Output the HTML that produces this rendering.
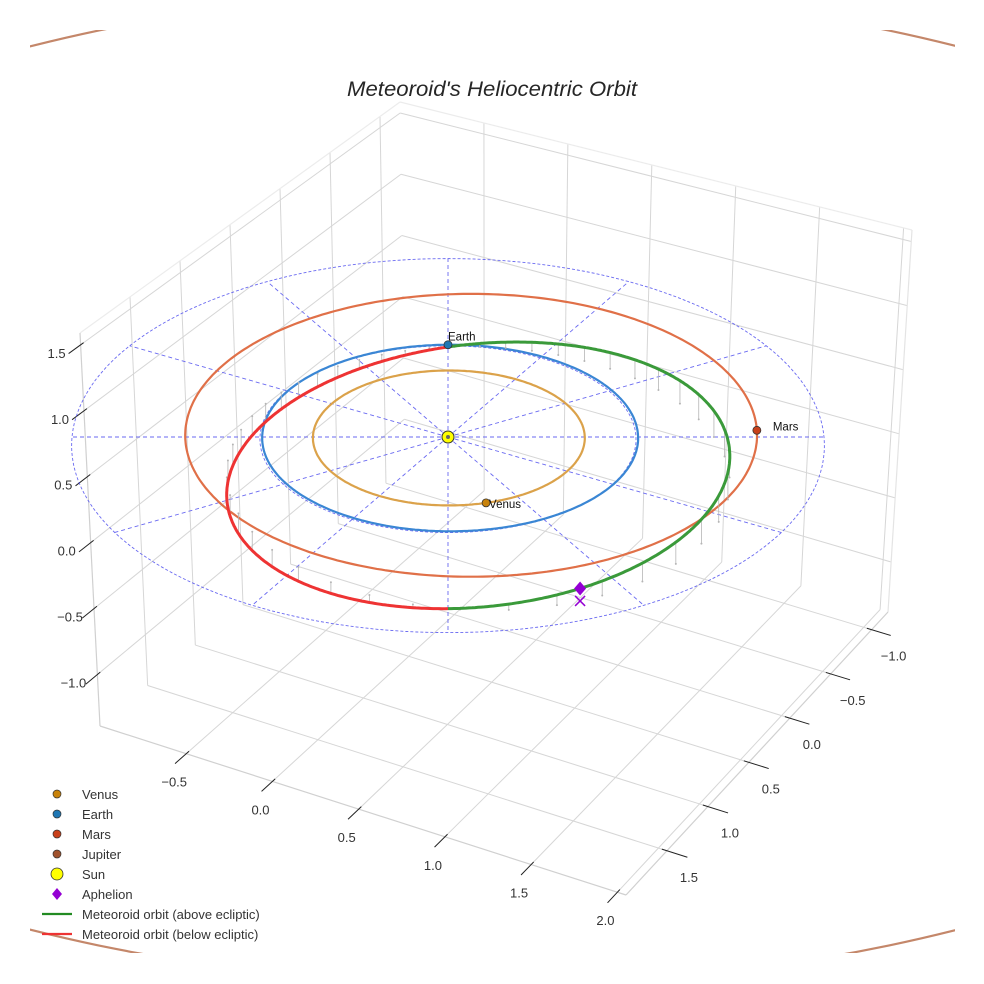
<!DOCTYPE html>
<html><head><meta charset="utf-8"><style>
html,body{margin:0;padding:0;background:#fff;}
svg{display:block;font-family:"Liberation Sans",Arial,sans-serif;}
</style></head><body>
<svg id="chart" width="984" height="984" viewBox="0 0 984 984" xmlns="http://www.w3.org/2000/svg">
<defs><clipPath id="clipAx"><rect x="30" y="30" width="925" height="923"/></clipPath></defs>
<text x="492" y="96" text-anchor="middle" font-size="21" font-style="italic" fill="#262626" textLength="290" lengthAdjust="spacingAndGlyphs">Meteoroid's Heliocentric Orbit</text>
<g id="grid"></g>
<g id="plot" clip-path="url(#clipAx)"></g>
<g id="legend"></g>
</svg>
<script>
// ---- data ----
const xTicks=[-0.5,0,0.5,1,1.5,2];
const yTicks=[-1,-0.5,0,0.5,1,1.5];
const zTicks=[-1,-0.5,0,0.5,1,1.5];
const planetNames=['Venus','Earth','Mars','Jupiter'];
const planetA=[0.723,1.0,1.524,5.203];
const planetE=[0.0068,0.0167,0.0934,0.0489];
const planetPeri=[131,103,120,150];
const planetNow=[44,240,327.5,null];
const planetColors=['#dba24a','#3a86d4','#e07048','#c4876a'];
const markerColors=['#c8820a','#1f77b4','#c8401a','#a0522d'];
const metQ=0.97, metE=0.305, metI=8.2, metNode=240, metPeri=338;
const ringRadii=[1,2];
const radialAngles=[0,30,60,90,120,150,180,210,240,270,300,330];

// ---- axis limits / layout ----
const XMIN=-1.0,XMAX=2.05,YMIN=-1.2,YMAX=2.0,ZMIN=-1.39,ZMAX=1.59;
const B00=[405,467],B10=[888,612],B01=[100,726],B11=[626,895];
const T00=[400,102],T10=[912,230],T01=[80,333],T11=[632,485];
const NS='http://www.w3.org/2000/svg';
const rad=d=>d*Math.PI/180;
function bil(c00,c10,c01,c11,u,v){return [(1-u)*(1-v)*c00[0]+u*(1-v)*c10[0]+(1-u)*v*c01[0]+u*v*c11[0],(1-u)*(1-v)*c00[1]+u*(1-v)*c10[1]+(1-u)*v*c01[1]+u*v*c11[1]];}
function box(x,y,z){const u=(x-XMIN)/(XMAX-XMIN),v=(y-YMIN)/(YMAX-YMIN),w=(z-ZMIN)/(ZMAX-ZMIN);
 const b=bil(B00,B10,B01,B11,u,v),t=bil(T00,T10,T01,T11,u,v);return [b[0]+(t[0]-b[0])*w,b[1]+(t[1]-b[1])*w];}
function proj(x,y,z){const a=0.866*x-0.5*y,b=0.5*x+0.866*y,den=1-0.023*b;return [448+188*a/den,437+93.3*b/den-128*z];}
function projFar(a,e,t){return [448+a*e*180+a*194.5*Math.cos(t),437+a*9.8+a*95.5*Math.sin(t)];}
function mk(tag,attrs,parent){const e=document.createElementNS(NS,tag);for(const k in attrs)e.setAttribute(k,attrs[k]);parent.appendChild(e);return e;}
function ptsStr(p){return p.map(q=>q[0].toFixed(1)+','+q[1].toFixed(1)).join(' ');}
const grid=document.getElementById('grid'),plot=document.getElementById('plot'),legend=document.getElementById('legend');

// ---- grid & panes ----
function gline(p,q,col,w,name){const l=mk('line',{x1:p[0],y1:p[1],x2:q[0],y2:q[1],stroke:col,'stroke-width':w},grid);
 
 }
xTicks.forEach(t=>{gline(box(t,YMIN,ZMIN),box(t,YMAX,ZMIN),'#d6d6d6',1,'floor-gridline-x');gline(box(t,YMIN,ZMIN),box(t,YMIN,ZMAX),'#d6d6d6',1,'wall-gridline-x');});
yTicks.forEach(t=>{gline(box(XMIN,t,ZMIN),box(XMAX,t,ZMIN),'#d6d6d6',1,'floor-gridline-y');gline(box(XMIN,t,ZMIN),box(XMIN,t,ZMAX),'#d6d6d6',1,'wall-gridline-y');});
zTicks.forEach(t=>{gline(box(XMIN,YMIN,t),box(XMIN,YMAX,t),'#d6d6d6',1,'wall-gridline-z');gline(box(XMIN,YMIN,t),box(XMAX,YMIN,t),'#d6d6d6',1,'wall-gridline-z');});
gline(box(XMIN,YMIN,ZMAX),box(XMIN,YMAX,ZMAX),'#ececec',1.2,'pane-edge');
gline(box(XMIN,YMIN,ZMAX),box(XMAX,YMIN,ZMAX),'#ececec',1.2,'pane-edge');
gline(box(XMAX,YMIN,ZMIN),box(XMAX,YMIN,ZMAX),'#e4e4e4',1.2,'pane-edge');
gline(box(XMIN,YMAX,ZMIN),box(XMIN,YMAX,ZMAX),'#d0d0d0',1.2,'z-axis-line');
gline(box(XMIN,YMAX,ZMIN),box(XMAX,YMAX,ZMIN),'#d0d0d0',1.2,'x-axis-line');
gline(box(XMAX,YMIN,ZMIN),box(XMAX,YMAX,ZMIN),'#d0d0d0',1.2,'y-axis-line');
function tlabel(p,txt,name){const t=mk('text',{x:p[0].toFixed(1),y:p[1].toFixed(1),'text-anchor':'middle','font-size':13,fill:'#333'},grid);t.textContent=txt;
 
 }
const fmt=v=>(v<0?'\u2212':'')+Math.abs(v).toFixed(1);
xTicks.forEach(t=>{const p=box(t,YMAX,ZMIN);gline(box(t,YMAX-0.03,ZMIN),box(t,YMAX+0.12,ZMIN),'#222',1,'x-tick');tlabel([p[0]-12,p[1]+33],fmt(t),'x-tick-label');});
yTicks.forEach(t=>{const p=box(XMAX,t,ZMIN);gline(box(XMAX-0.03,t,ZMIN),box(XMAX+0.12,t,ZMIN),'#222',1,'y-tick');tlabel([p[0]+22,p[1]+31],fmt(t),'y-tick-label');});
zTicks.forEach(t=>{const p=box(XMIN,YMAX,t);gline(box(XMIN,YMAX-0.03,t),box(XMIN,YMAX+0.12,t),'#222',1,'z-tick');tlabel([p[0]-24,p[1]+13],fmt(t),'z-tick-label');});

// ---- ecliptic reference ----
ringRadii.forEach(r=>{const p=[];for(let k=0;k<=240;k++){const a=rad(k*1.5);p.push(proj(r*Math.cos(a),r*Math.sin(a),0));}
 const e=mk('polyline',{points:ptsStr(p),fill:'none',stroke:'#5a5af0','stroke-width':0.9,'stroke-dasharray':'3,2',opacity:0.9},plot);
 
 });
radialAngles.forEach(d=>{const a=rad(d-30),p=proj(0,0,0),q=proj(2*Math.cos(a),2*Math.sin(a),0);
 const e=mk('line',{x1:p[0],y1:p[1],x2:q[0],y2:q[1],stroke:'#5a5af0','stroke-width':0.9,'stroke-dasharray':'4,3',opacity:0.9},plot);
 
 });

// ---- planet orbits ----
function orbitPt(a,e,peri,th){const r=a*(1-e*e)/(1+e*Math.cos(rad(th-peri)));return [r*Math.cos(rad(th)),r*Math.sin(rad(th))];}
[3,2,1,0].forEach(i=>{const p=[];for(let k=0;k<=360;k++){
   if(i===3){p.push(projFar(planetA[i],planetE[i],rad(k)));}
   else{const q=orbitPt(planetA[i],planetE[i],planetPeri[i],k);p.push(proj(q[0],q[1],0));}}
 const e=mk('polyline',{points:ptsStr(p),fill:'none',stroke:planetColors[i],'stroke-width':2.2},plot);
 
 });

// ---- meteoroid ----
function met(nu){const p=metQ*(1+metE),r=p/(1+metE*Math.cos(rad(nu))),u=rad(metPeri+nu),O=rad(metNode),I=rad(metI);
 return [r*(Math.cos(O)*Math.cos(u)-Math.sin(O)*Math.sin(u)*Math.cos(I)),r*(Math.sin(O)*Math.cos(u)+Math.cos(O)*Math.sin(u)*Math.cos(I)),r*Math.sin(u)*Math.sin(I)];}
for(let nu=0;nu<360;nu+=8){const P=met(nu),a=proj(P[0],P[1],P[2]),g=proj(P[0],P[1],0);
 const l=mk('line',{x1:a[0],y1:a[1],x2:g[0],y2:g[1],stroke:'#b5b5b5','stroke-width':0.8},plot);
 
 
 const c=mk('circle',{cx:g[0],cy:g[1],r:1,fill:'#b5b5b5'},plot);
 
 }
const above=[],below=[];
for(let s=0;s<=720;s++){const nu=s*0.5-metPeri;const P=met(nu);const q=proj(P[0],P[1],P[2]);if(s<=360)above.push(q);if(s>=360)below.push(q);}
let g1=mk('polyline',{points:ptsStr(above),fill:'none',stroke:'#3a9a3a','stroke-width':3},plot);


let r1=mk('polyline',{points:ptsStr(below),fill:'none',stroke:'#ee3333','stroke-width':3},plot);


// aphelion
const AP=met(180),apS=proj(AP[0],AP[1],AP[2]),apG=proj(AP[0],AP[1],0);
let ax=mk('path',{d:`M${apG[0]-5},${apG[1]-5}L${apG[0]+5},${apG[1]+5}M${apG[0]-5},${apG[1]+5}L${apG[0]+5},${apG[1]-5}`,stroke:'#9400d3','stroke-width':1.5},plot);


let ad=mk('path',{d:`M${apS[0]},${apS[1]-7}L${apS[0]+6},${apS[1]}L${apS[0]},${apS[1]+7}L${apS[0]-6},${apS[1]}Z`,fill:'#9400d3'},plot);



// ---- planet markers & sun ----
const labelOff=[[3,5],[0,-4],[16,0]];
[0,1,2].forEach(i=>{const q=orbitPt(planetA[i],planetE[i],planetPeri[i],planetNow[i]);const s=proj(q[0],q[1],0);
 const c=mk('circle',{cx:s[0],cy:s[1],r:4,fill:markerColors[i],stroke:'#333','stroke-width':0.8},plot);
 
 
 const t=mk('text',{x:s[0]+labelOff[i][0],y:s[1]+labelOff[i][1],'font-size':11.5,fill:'#111'},plot);t.textContent=planetNames[i];
 
 });
const sunP=proj(0,0,0);
let sun=mk('circle',{cx:sunP[0],cy:sunP[1],r:6,fill:'#ffff00',stroke:'#333','stroke-width':1},plot);


let sunc=mk('circle',{cx:sunP[0],cy:sunP[1],r:2,fill:'#666'},plot);



// ---- legend ----
const legNames=['Venus','Earth','Mars','Jupiter','Sun','Aphelion','Meteoroid orbit (above ecliptic)','Meteoroid orbit (below ecliptic)'];
legNames.forEach((n,k)=>{const y=794+k*20,cx=57;
 let m;
 if(k<4){m=mk('circle',{cx:cx,cy:y,r:4,fill:markerColors[k],stroke:'#333','stroke-width':0.7},legend);}
 else if(k===4){m=mk('circle',{cx:cx,cy:y,r:6,fill:'#ffff00',stroke:'#333','stroke-width':0.8},legend);}
 else if(k===5){m=mk('path',{d:`M${cx},${y-6}L${cx+5},${y}L${cx},${y+6}L${cx-5},${y}Z`,fill:'#9400d3'},legend);}
 else{m=mk('line',{x1:42,y1:y,x2:72,y2:y,stroke:k===6?'#228b22':'#ee3333','stroke-width':2.2},legend);}
 
 
 const t=mk('text',{x:82,y:y+5,'font-size':13,fill:'#333'},legend);t.textContent=n;
 
 });
</script>
</body></html>
